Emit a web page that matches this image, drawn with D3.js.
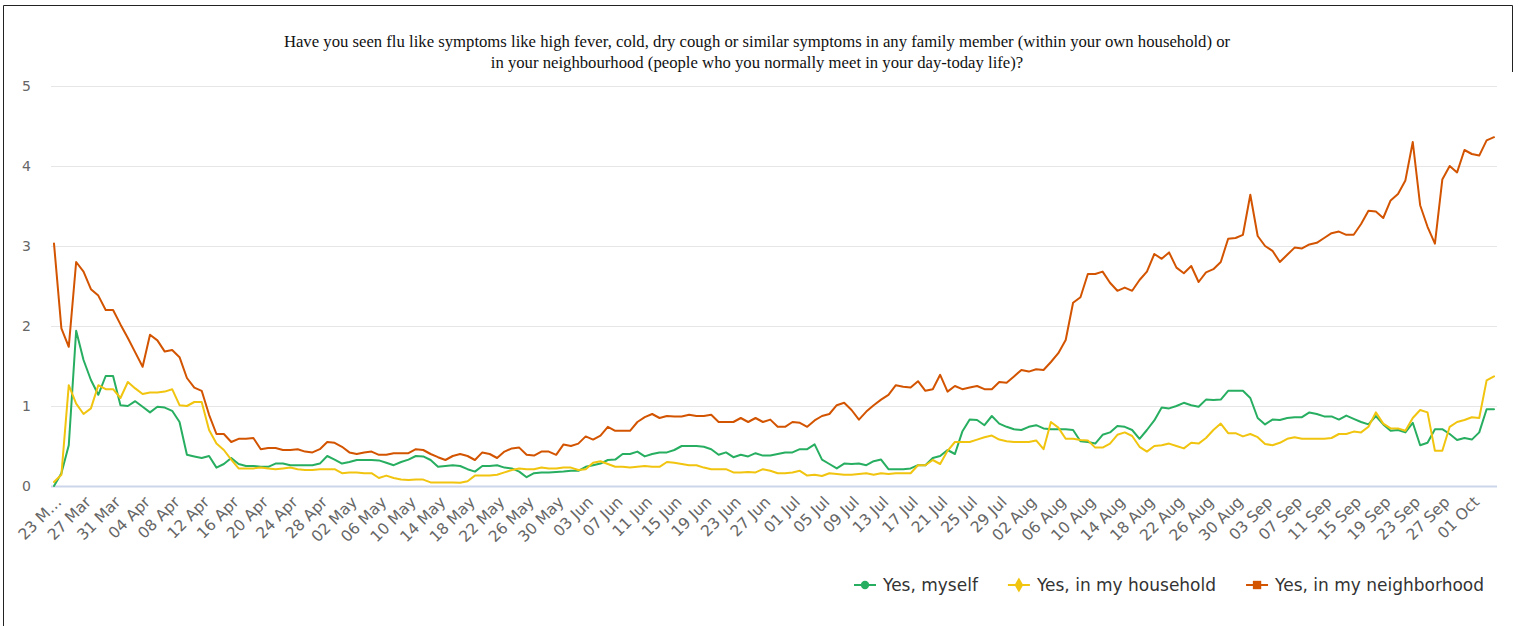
<!DOCTYPE html>
<html><head><meta charset="utf-8">
<script src="https://cdn.jsdelivr.net/npm/d3@7/dist/d3.min.js"></script>
<style>body{margin:0;background:#fff;overflow:hidden}svg{display:block}</style>
</head><body><svg id="c" width="1520" height="626"></svg>
<script>
const titleLines = [
  "Have you seen flu like symptoms like high fever, cold, dry cough or similar symptoms in any family member (within your own household) or",
  "in your neighbourhood (people who you normally meet in your day-today life)?"
];
const seriesNames = ["Yes, myself", "Yes, in my household", "Yes, in my neighborhood"];
const seriesColors = ["#27ae60", "#f1c40f", "#d35400"];
const tickLabels = ["23 M\u2026","27 Mar","31 Mar","04 Apr","08 Apr","12 Apr","16 Apr","20 Apr","24 Apr","28 Apr",
  "02 May","06 May","10 May","14 May","18 May","22 May","26 May","30 May","03 Jun","07 Jun","11 Jun","15 Jun",
  "19 Jun","23 Jun","27 Jun","01 Jul","05 Jul","09 Jul","13 Jul","17 Jul","21 Jul","25 Jul","29 Jul","02 Aug",
  "06 Aug","10 Aug","14 Aug","18 Aug","22 Aug","26 Aug","30 Aug","03 Sep","07 Sep","11 Sep","15 Sep","19 Sep",
  "23 Sep","27 Sep","01 Oct"];
const tickEvery = 4;
const yTicks = [0, 1, 2, 3, 4, 5];

const myself = [
0.0,0.16,0.51,1.94,1.575,1.325,1.14,1.375,1.375,1.01,
1.00,1.06,0.99,0.92,0.99,0.98,0.94,0.80,0.39,0.37,
0.35,0.375,0.23,0.275,0.35,0.275,0.25,0.25,0.24,0.24,
0.28,0.28,0.26,0.26,0.26,0.26,0.28,0.375,0.33,0.28,
0.30,0.325,0.325,0.325,0.32,0.29,0.26,0.30,0.33,0.375,
0.37,0.325,0.24,0.25,0.26,0.25,0.21,0.18,0.25,0.25,
0.26,0.23,0.22,0.18,0.11,0.16,0.17,0.17,0.175,0.18,
0.19,0.19,0.24,0.26,0.28,0.325,0.33,0.40,0.40,0.43,
0.37,0.40,0.42,0.42,0.45,0.50,0.50,0.50,0.49,0.46,
0.39,0.42,0.36,0.39,0.37,0.41,0.38,0.38,0.40,0.42,
0.42,0.46,0.46,0.52,0.33,0.275,0.22,0.28,0.275,0.28,
0.26,0.31,0.33,0.21,0.21,0.21,0.22,0.26,0.26,0.35,
0.375,0.45,0.40,0.68,0.83,0.825,0.76,0.875,0.78,0.74,
0.71,0.70,0.74,0.76,0.72,0.71,0.71,0.71,0.70,0.56,
0.55,0.53,0.64,0.67,0.75,0.74,0.70,0.59,0.70,0.82,
0.98,0.97,1.00,1.04,1.01,0.99,1.08,1.075,1.08,1.19,
1.19,1.19,1.10,0.85,0.77,0.83,0.825,0.85,0.86,0.86,
0.92,0.90,0.87,0.87,0.83,0.88,0.84,0.80,0.77,0.875,
0.77,0.69,0.70,0.67,0.79,0.51,0.54,0.71,0.71,0.65,
0.575,0.60,0.58,0.67,0.96,0.96];

const household = [
0.05,0.14,1.26,1.03,0.90,0.97,1.26,1.21,1.21,1.10,
1.30,1.22,1.15,1.17,1.17,1.18,1.21,1.01,1.00,1.05,
1.05,0.70,0.53,0.45,0.33,0.22,0.22,0.22,0.23,0.22,
0.21,0.22,0.23,0.21,0.20,0.20,0.21,0.21,0.21,0.16,
0.17,0.17,0.16,0.16,0.10,0.13,0.10,0.08,0.075,0.08,
0.08,0.045,0.045,0.045,0.045,0.04,0.06,0.13,0.13,0.13,
0.14,0.17,0.20,0.22,0.21,0.21,0.23,0.22,0.22,0.23,
0.23,0.20,0.21,0.29,0.31,0.275,0.24,0.24,0.23,0.24,
0.25,0.24,0.24,0.30,0.29,0.275,0.26,0.26,0.23,0.21,
0.21,0.21,0.17,0.17,0.175,0.17,0.21,0.19,0.16,0.16,
0.17,0.19,0.13,0.14,0.125,0.16,0.15,0.14,0.14,0.15,
0.16,0.14,0.16,0.15,0.16,0.16,0.16,0.26,0.26,0.325,
0.275,0.44,0.55,0.55,0.55,0.58,0.61,0.63,0.58,0.56,
0.55,0.55,0.55,0.57,0.46,0.80,0.73,0.59,0.59,0.575,
0.57,0.48,0.48,0.53,0.64,0.67,0.625,0.49,0.43,0.50,
0.51,0.53,0.50,0.47,0.54,0.53,0.60,0.70,0.78,0.66,
0.66,0.62,0.65,0.61,0.525,0.51,0.54,0.59,0.61,0.59,
0.59,0.59,0.59,0.60,0.65,0.65,0.68,0.67,0.74,0.92,
0.78,0.72,0.72,0.69,0.85,0.95,0.92,0.44,0.44,0.74,
0.80,0.825,0.86,0.85,1.32,1.37];

const neighborhood = [
3.03,1.97,1.74,2.80,2.68,2.46,2.38,2.20,2.20,2.02,
1.85,1.67,1.49,1.89,1.82,1.68,1.70,1.61,1.35,1.23,
1.19,0.89,0.65,0.65,0.55,0.59,0.59,0.60,0.46,0.475,
0.475,0.45,0.45,0.46,0.43,0.42,0.46,0.55,0.54,0.49,
0.42,0.40,0.42,0.43,0.39,0.39,0.41,0.41,0.41,0.46,
0.45,0.40,0.36,0.325,0.375,0.40,0.375,0.325,0.42,0.40,
0.35,0.43,0.47,0.48,0.39,0.38,0.43,0.43,0.39,0.52,
0.50,0.53,0.62,0.58,0.63,0.74,0.69,0.69,0.69,0.80,
0.86,0.90,0.85,0.875,0.87,0.87,0.89,0.875,0.875,0.89,
0.80,0.80,0.80,0.85,0.80,0.85,0.80,0.83,0.74,0.74,
0.80,0.79,0.74,0.82,0.875,0.90,1.01,1.04,0.95,0.83,
0.93,1.01,1.08,1.14,1.26,1.24,1.23,1.31,1.19,1.21,
1.39,1.18,1.25,1.21,1.23,1.25,1.21,1.21,1.30,1.29,
1.37,1.45,1.43,1.46,1.45,1.55,1.66,1.825,2.29,2.36,
2.65,2.65,2.68,2.54,2.44,2.48,2.44,2.575,2.68,2.90,
2.84,2.92,2.73,2.66,2.75,2.55,2.67,2.71,2.80,3.09,
3.10,3.14,3.64,3.125,3.00,2.94,2.80,2.89,2.98,2.97,
3.02,3.04,3.10,3.16,3.18,3.14,3.14,3.275,3.44,3.43,
3.35,3.57,3.65,3.82,4.30,3.51,3.24,3.03,3.83,4.00,
3.92,4.20,4.15,4.13,4.32,4.36];

const seriesData = [myself, household, neighborhood];
const n = neighborhood.length;

const svg = d3.select("#c");
const plot = {left: 51, right: 1497, top: 86, bottom: 486};

// frame
svg.append("path").attr("d", `M3.5,626 V5.5 H1512.5 V72`)
  .attr("fill", "none").attr("stroke", "#222").attr("stroke-width", 1);

const x = d3.scaleLinear().domain([0, n - 1]).range([54, 1494]);
const y = d3.scaleLinear().domain([0, 5]).range([plot.bottom, plot.top]);

// title
const t = svg.append("text").attr("text-anchor", "middle")
  .attr("font-family", "'Liberation Serif', 'Times New Roman', serif")
  .attr("font-size", 16.7).attr("fill", "#111");
titleLines.forEach((l, i) => t.append("tspan").attr("x", 757).attr("y", 47 + i * 21).text(l));

// grid
svg.append("g").selectAll("line").data(yTicks.filter(d => d > 0)).join("line")
  .attr("x1", plot.left).attr("x2", plot.right)
  .attr("y1", d => Math.round(y(d)) + 0.5).attr("y2", d => Math.round(y(d)) + 0.5)
  .attr("stroke", "#e6e6e6").attr("stroke-width", 1);

// y axis labels
const yAxis = d3.axisLeft(y).tickValues(yTicks).tickSize(0).tickPadding(0).tickFormat(d3.format("d"));
const gy = svg.append("g").attr("transform", `translate(31,0)`).call(yAxis);
gy.select(".domain").remove();
gy.selectAll("text").attr("font-family", "'DejaVu Sans', Verdana, sans-serif")
  .attr("font-size", 14).attr("fill", "#666");

// x axis line
svg.append("line").attr("x1", plot.left).attr("x2", plot.right)
  .attr("y1", plot.bottom + 0.5).attr("y2", plot.bottom + 0.5)
  .attr("stroke", "#ccd6eb").attr("stroke-width", 2);

// x labels
const tickIdx = tickLabels.map((_, i) => i * tickEvery);
const xAxis = d3.axisBottom(x).tickValues(tickIdx).tickSize(0).tickPadding(0)
  .tickFormat((d, i) => tickLabels[i]);
const gx = svg.append("g").attr("transform", `translate(0,${plot.bottom})`).call(xAxis);
gx.select(".domain").remove();
gx.selectAll("text")
  .attr("font-family", "'DejaVu Sans', Verdana, sans-serif")
  .attr("font-size", 15.5).attr("fill", "#666")
  .attr("text-anchor", "end").attr("dy", null).attr("y", null)
  .attr("transform", "translate(8,17) rotate(-45)");

// lines
const line = d3.line().x((d, i) => x(i)).y(d => y(d)).curve(d3.curveLinear);
seriesData.forEach((s, k) => {
  svg.append("path").datum(s).attr("d", line)
    .attr("fill", "none").attr("stroke", seriesColors[k]).attr("stroke-width", 2)
    .attr("stroke-linejoin", "round").attr("stroke-linecap", "round");
});

// legend (right-aligned to end near x=1484)
const lg = svg.append("g").attr("font-family", "'DejaVu Sans', Verdana, sans-serif").attr("font-size", 17);
const ly = 585;
const items = seriesNames.map((name, k) => {
  const g = lg.append("g");
  g.append("line").attr("x1", 0).attr("x2", 22).attr("y1", 0).attr("y2", 0)
    .attr("stroke", seriesColors[k]).attr("stroke-width", 2);
  const sym = [d3.symbolCircle, d3.symbolDiamond, d3.symbolSquare][k];
  const size = [55, 64, 70][k];
  g.append("path").attr("d", d3.symbol(sym, size)()).attr("transform", "translate(11,0)")
    .attr("fill", seriesColors[k]);
  const tx = g.append("text").attr("x", 29).attr("y", 6).attr("fill", "#333").text(name);
  return {g, w: 29 + tx.node().getComputedTextLength()};
});
const gap = 30;
const total = d3.sum(items, d => d.w) + gap * (items.length - 1);
let lx = 1484 - total;
items.forEach(it => { it.g.attr("transform", `translate(${lx},${ly})`); lx += it.w + gap; });
</script>
</body></html>
